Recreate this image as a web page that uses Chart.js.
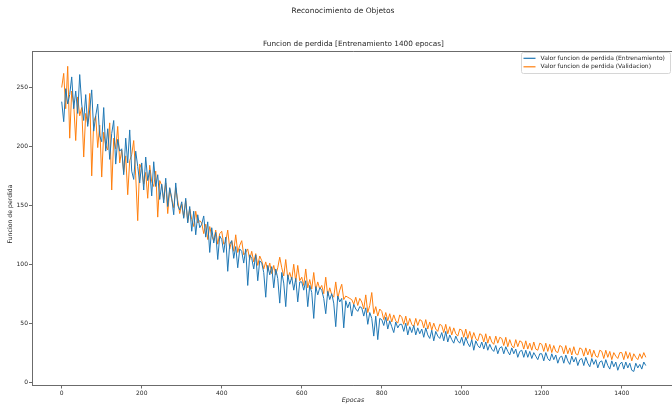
<!DOCTYPE html>
<html>
<head>
<meta charset="utf-8">
<script src="https://cdn.jsdelivr.net/npm/chart.js@4.4.1/dist/chart.umd.min.js"></script>
<style>
  html, body { margin: 0; padding: 0; background: #fff; overflow: hidden; }
  #wrap { width: 680px; height: 404px; }
</style>
</head>
<body>
<div id="wrap"><canvas id="lossChart" width="680" height="404"></canvas></div>
<script>
// Loss values, one value every 5 epochs (0..1460)
const EPOCH_STEP = 5;

const trainLoss = [
  238, 221, 249, 236, 244, 259, 232, 247, 228, 261,
  236, 222, 244, 217, 231, 248, 213, 226, 236, 209,
  204, 233, 196, 215, 189, 211, 222, 185, 206, 196,
  198, 176, 207, 186, 214, 179, 172, 196, 183, 169,
  186, 163, 191, 171, 180, 158, 187, 166, 176, 155,
  168, 152, 173, 149, 165, 156, 142, 169, 150, 146,
  153, 139, 156, 135, 149, 128, 145, 125, 142, 131,
  134, 141, 123, 136, 110, 131, 118, 127, 104, 124,
  121, 110, 123, 94, 117, 120, 105, 115, 97, 113,
  111, 101, 113, 82, 108, 105, 96, 108, 86, 103,
  101, 93, 72, 99, 91, 98, 80, 96, 88, 67,
  93, 84, 64, 91, 83, 89, 78, 88, 68, 85,
  85, 78, 86, 64, 82, 76, 54, 81, 74, 80,
  78, 71, 58, 77, 70, 75, 67, 47, 73, 68,
  71, 46, 69, 63, 68, 56, 66, 62, 60, 64,
  63, 56, 63, 49, 59, 54, 39, 56, 36, 54,
  53, 48, 55, 45, 52, 47, 42, 51, 46, 49,
  49, 43, 50, 40, 47, 42, 48, 40, 46, 41,
  45, 38, 46, 40, 37, 44, 35, 43, 39, 37,
  42, 35, 43, 34, 40, 36, 33, 39, 35, 33,
  38, 31, 38, 33, 30, 36, 27, 35, 31, 29,
  34, 28, 34, 27, 32, 28, 26, 31, 24, 29,
  30, 24, 30, 26, 23, 29, 24, 28, 21, 26,
  27, 21, 27, 21, 26, 20, 25, 22, 19, 24,
  24, 18, 25, 20, 18, 24, 19, 23, 16, 21,
  22, 16, 23, 18, 15, 22, 17, 21, 14, 19,
  20, 14, 21, 16, 13, 20, 15, 19, 12, 17,
  18, 12, 19, 14, 11, 18, 13, 17, 10, 15,
  17, 11, 17, 12, 16, 10, 9, 16, 12, 15,
  11, 17, 14
];

const valLoss = [
  250, 262, 232, 268, 207, 247, 236, 205, 242, 226,
  233, 191, 228, 219, 245, 175, 221, 226, 199, 218,
  174, 212, 201, 197, 220, 163, 207, 198, 217, 186,
  197, 178, 192, 159, 188, 193, 205, 175, 137, 185,
  181, 168, 178, 156, 184, 170, 166, 179, 140, 171,
  167, 155, 169, 143, 164, 155, 148, 165, 154, 143,
  151, 140, 154, 136, 147, 138, 132, 145, 135, 137,
  135, 126, 134, 121, 132, 124, 120, 129, 117, 126,
  128, 117, 119, 129, 113, 120, 111, 125, 110, 116,
  120, 108, 110, 113, 104, 111, 102, 109, 99, 107,
  103, 96, 102, 94, 101, 92, 99, 91, 97, 106,
  97, 90, 104, 88, 93, 87, 100, 85, 99, 86,
  89, 82, 96, 80, 87, 79, 93, 78, 85, 79,
  82, 75, 89, 73, 80, 74, 72, 85, 71, 78,
  83, 70, 73, 72, 71, 70, 66, 72, 65, 71,
  68, 62, 74, 59, 65, 76, 58, 64, 56, 62,
  60, 53, 59, 52, 58, 51, 57, 52, 50, 57,
  55, 49, 56, 48, 54, 49, 47, 54, 48, 53,
  52, 46, 53, 45, 51, 44, 50, 45, 43, 49,
  48, 42, 49, 41, 47, 40, 46, 41, 39, 45,
  44, 38, 45, 37, 43, 36, 42, 37, 35, 41,
  40, 34, 41, 33, 39, 34, 32, 39, 33, 38,
  37, 31, 38, 30, 36, 31, 29, 36, 30, 35,
  34, 28, 35, 28, 33, 27, 34, 28, 27, 33,
  32, 26, 33, 26, 32, 25, 31, 26, 25, 31,
  30, 24, 31, 24, 29, 23, 30, 24, 23, 29,
  28, 22, 29, 23, 28, 21, 27, 22, 21, 27,
  26, 20, 27, 21, 26, 19, 25, 22, 20, 25,
  25, 19, 26, 20, 25, 18, 24, 21, 19, 24,
  20, 25, 21
];

const seriesLabels = [
  "Valor funcion de perdida (Entrenamiento)",
  "Valor funcion de perdida (Validacion)",
];
const seriesColors = ["#1f77b4", "#ff7f0e"];

const xTicks = [0, 200, 400, 600, 800, 1000, 1200, 1400];
const yTicks = [0, 50, 100, 150, 200, 250];

const FONT = "'DejaVu Sans', sans-serif";
const TEXT = "#262626";

const toPoints = (arr) => arr.map((v, i) => ({ x: i * EPOCH_STEP, y: v }));

// titles, axis labels, legend and the top/right spines, drawn like matplotlib
const decorations = {
  id: "decorations",
  afterDraw(chart) {
    const { ctx, chartArea: a } = chart;
    ctx.save();

    ctx.strokeStyle = "#6b6b6b";
    ctx.lineWidth = 1;
    ctx.beginPath();
    ctx.moveTo(a.left, a.top + 0.5);
    ctx.lineTo(a.right, a.top + 0.5);
    ctx.moveTo(a.right - 0.5, a.top);
    ctx.lineTo(a.right - 0.5, a.bottom);
    ctx.stroke();

    ctx.fillStyle = TEXT;
    ctx.textAlign = "center";
    ctx.textBaseline = "middle";
    ctx.font = `7.5px ${FONT}`;
    ctx.fillText("Reconocimiento de Objetos", 343, 11);
    ctx.font = `7.3px ${FONT}`;
    ctx.fillText("Funcion de perdida [Entrenamiento 1400 epocas]", 353.5, 44);

    ctx.font = `italic 6.3px ${FONT}`;
    ctx.fillText("Epocas", 353, 400.5);

    ctx.save();
    ctx.translate(10, 214);
    ctx.rotate(-Math.PI / 2);
    ctx.font = `6.2px ${FONT}`;
    ctx.fillText("Funcion de perdida", 0, 0);
    ctx.restore();

    // legend (upper right)
    const bx = 521, by = 52, bw = 149, bh = 21;
    ctx.fillStyle = "rgba(255,255,255,0.85)";
    ctx.strokeStyle = "#d6d6d6";
    ctx.lineWidth = 1;
    ctx.beginPath();
    ctx.roundRect(bx + 0.5, by + 0.5, bw, bh, 2);
    ctx.fill();
    ctx.stroke();

    const rows = [58.3, 66.8];
    ctx.font = `6px ${FONT}`;
    ctx.textAlign = "left";
    rows.forEach((y, i) => {
      ctx.strokeStyle = seriesColors[i];
      ctx.lineWidth = 1.2;
      ctx.beginPath();
      ctx.moveTo(523.5, y);
      ctx.lineTo(535.5, y);
      ctx.stroke();
      ctx.fillStyle = TEXT;
      ctx.fillText(seriesLabels[i], 540.5, y);
    });

    ctx.restore();
  },
};

new Chart(document.getElementById("lossChart"), {
  type: "line",
  data: {
    datasets: [
      {
        label: seriesLabels[0],
        data: toPoints(trainLoss),
        borderColor: seriesColors[0],
        borderWidth: 1,
        pointRadius: 0,
      },
      {
        label: seriesLabels[1],
        data: toPoints(valLoss),
        borderColor: seriesColors[1],
        borderWidth: 1,
        pointRadius: 0,
      },
    ],
  },
  options: {
    responsive: false,
    animation: false,
    devicePixelRatio: 1,
    layout: { padding: { top: 51, left: 0, right: 5, bottom: 0 } },
    plugins: { legend: { display: false }, title: { display: false }, tooltip: { enabled: false } },
    scales: {
      x: {
        type: "linear",
        min: -73,
        max: 1533,
        afterFit: (s) => { s.height = 19; },
        afterBuildTicks: (s) => { s.ticks = xTicks.map((v) => ({ value: v })); },
        grid: { drawOnChartArea: false, drawTicks: true, tickLength: 3.5, color: "#444", lineWidth: 0.8 },
        border: { color: "#6b6b6b", width: 1 },
        ticks: {
          font: { family: FONT, size: 6 },
          color: TEXT,
          padding: 1,
          maxRotation: 0,
          callback: (v) => String(v),
        },
      },
      y: {
        min: -2.5,
        max: 281,
        afterFit: (s) => { s.width = 32.5; },
        afterBuildTicks: (s) => { s.ticks = yTicks.map((v) => ({ value: v })); },
        grid: { drawOnChartArea: false, drawTicks: true, tickLength: 3.5, color: "#444", lineWidth: 0.8 },
        border: { color: "#6b6b6b", width: 1 },
        ticks: { font: { family: FONT, size: 6 }, color: TEXT, padding: 1, callback: (v) => String(v) },
      },
    },
  },
  plugins: [decorations],
});
</script>
</body>
</html>
